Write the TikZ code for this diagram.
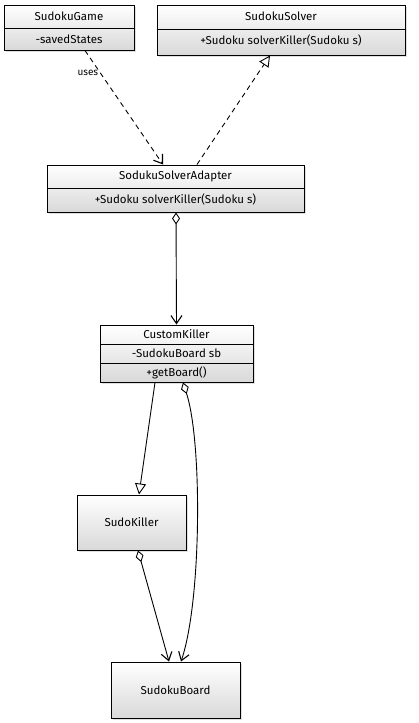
\documentclass[tikz,border=0pt]{standalone}
\usepackage{fontspec}
\setmainfont{Fira Sans}
\usetikzlibrary{arrows.meta,shadows,calc}
\begin{document}
\begin{tikzpicture}[x=1pt,y=-1pt,
  box/.style={draw=black, line width=1pt, top color=white, bottom color=black!15,
    drop shadow={shadow xshift=2pt,shadow yshift=-2pt,fill=black!25}, inner sep=0pt},
  txt/.style={font=\fontsize{11.5}{12}\selectfont, inner sep=0pt},
  div/.style={draw=black, line width=0.9pt},
  conn/.style={line width=0.9pt, black},
  dashline/.style={dash pattern=on 5pt off 4pt},
  barb/.style={-{Straight Barb[length=8pt,width=11pt,line width=1.1pt]}},
  tri/.style={-{Triangle[open,fill=white,length=11pt,width=11pt,line width=0.9pt]}},
  diabarb/.style={{Diamond[open,fill=white,length=12pt,width=8pt,line width=0.9pt]}-{Straight Barb[length=8pt,width=11pt,line width=1.1pt]}}]
\useasboundingbox (0,0) rectangle (419,723);

% SudokuGame
\node[box, minimum width=130pt, minimum height=45pt] (game) at (69,27.5) {};
\draw[div] (game.west |- 0,28) -- (game.east |- 0,28);
\node[txt] (gameH) at (69,16) {SudokuGame};
\node[txt] (gameA) at (69,39) {-savedStates};

% SudokuSolver
\node[box, minimum width=248pt, minimum height=50pt] (solver) at (281,30) {};
\draw[div] (solver.west |- 0,29) -- (solver.east |- 0,29);
\node[txt] (solverH) at (281,16) {SudokuSolver};
\node[txt] (solverM) at (281,40) {+Sudoku solverKiller(Sudoku s)};

% SodukuSolverAdapter
\node[box, minimum width=257pt, minimum height=47pt] (adapter) at (175.5,188.5) {};
\draw[div] (adapter.west |- 0,188) -- (adapter.east |- 0,188);
\node[txt] (adapterH) at (175.5,176) {SodukuSolverAdapter};
\node[txt] (adapterM) at (175.5,199) {+Sudoku solverKiller(Sudoku s)};

% CustomKiller
\node[box, minimum width=153pt, minimum height=57pt] (ck) at (176.5,353.5) {};
\draw[div] (ck.west |- 0,344) -- (ck.east |- 0,344);
\draw[div] (ck.west |- 0,363) -- (ck.east |- 0,363);
\node[txt] (ckH) at (176.5,334) {CustomKiller};
\node[txt] (ckA) at (176.5,353.5) {-SudokuBoard sb};
\node[txt] (ckM) at (176.5,372.5) {+getBoard()};

% SudoKiller
\node[box, minimum width=109pt, minimum height=55pt, txt] (sk) at (131.5,522.5) {SudoKiller};

% SudokuBoard
\node[box, minimum width=129pt, minimum height=56pt, txt] (board) at (175.5,690) {SudokuBoard};

% connectors
\draw[conn, dashline, barb] ([xshift=16pt]game.south) -- ([xshift=-12.5pt]adapter.north)
  node[pos=0.2, left=2pt, txt, font=\fontsize{10}{11}\selectfont] (uses) {uses};
\draw[conn, dashline, tri] ([xshift=21.5pt]adapter.north) -- ([xshift=-11pt]solver.south);
\draw[conn, diabarb] ([xshift=0.5pt]adapter.south) -- (ck.north);
\draw[conn, tri] ([xshift=-21.5pt]ck.south) -- ([xshift=7.5pt]sk.north);
\draw[conn, diabarb] ([xshift=6.5pt]ck.south)
  .. controls ($(ck.south)+(26,60)$) and ($(board.north)+(26,-60)$) .. ([xshift=5.5pt]board.north);
\draw[conn, diabarb] ([xshift=6.5pt]sk.south) -- ([xshift=-6.5pt]board.north);
\end{tikzpicture}
\end{document}
